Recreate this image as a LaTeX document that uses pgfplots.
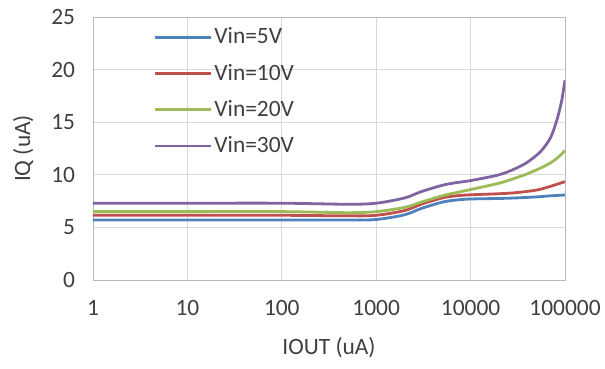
\documentclass[border=0pt]{standalone}
\usepackage{pgfplots}
\pgfplotsset{compat=1.18}
\usepackage{fontspec}
\setmainfont{Carlito}
\definecolor{cblue}{HTML}{4F81BD}
\definecolor{cred}{HTML}{C0504D}
\definecolor{cgreen}{HTML}{9BBB59}
\definecolor{cpurple}{HTML}{8064A2}
\definecolor{txt}{HTML}{404040}
\begin{document}
\fontsize{23.5}{28}\selectfont
\begin{tikzpicture}
\begin{axis}[
  at={(0,0)}, anchor=south west,
  scale only axis, width=472bp, height=263bp,
  xmode=log, xmin=1, xmax=100000,
  ymin=0, ymax=25, ytick={0,5,10,15,20,25},
  xtick={1,10,100,1000,10000,100000},
  xticklabels={1,10,100,1000,10000,100000},
  log basis x=10,
  /pgf/number format/assume math mode=true,
  tick label style={font=\fontsize{23.5}{28}\selectfont, text=txt},
  label style={font=\fontsize{23.5}{28}\selectfont, text=txt},
  xticklabel style={yshift=-12bp},
  yticklabel style={xshift=-10bp},
  major tick length=0pt, minor tick length=0pt,
  xmajorgrids, ymajorgrids, xminorgrids,
  major grid style={color=black!15, line width=0.8bp},
  minor grid style={color=black!8, line width=0.6bp},
  axis line style={color=black!28, line width=0.8bp},
  xlabel={IOUT (uA)}, ylabel={IQ (uA)},
  xlabel style={yshift=-6bp},
  ylabel style={yshift=2bp},
  legend style={draw=none, fill=none, at={(0.128,0.967)}, anchor=north west,
    font=\fontsize{23.5}{28}\selectfont, text=txt, row sep=12.5bp, inner sep=0pt,
    /tikz/every even column/.append style={column sep=0pt}},
  legend cell align=left,
  legend image code/.code={\draw[#1] (0bp,0bp) -- (56bp,0bp);},
  every axis plot/.append style={line width=2.8bp, smooth},
]
\addplot[cblue] coordinates {(1,5.7)(10,5.7)(100,5.7)(500,5.7)(1000,5.75)(2000,6.2)(3000,6.8)(5000,7.4)(7000,7.6)(10000,7.7)(20000,7.75)(30000,7.8)(50000,7.9)(70000,8.0)(100000,8.08)};
\addlegendentry{Vin=5V}
\addplot[cred] coordinates {(1,6.15)(10,6.15)(100,6.15)(500,6.1)(1000,6.15)(2000,6.6)(3000,7.2)(5000,7.8)(7000,8.0)(10000,8.1)(20000,8.2)(30000,8.3)(50000,8.55)(70000,8.9)(100000,9.35)};
\addlegendentry{Vin=10V}
\addplot[cgreen] coordinates {(1,6.5)(10,6.5)(100,6.5)(500,6.4)(1000,6.5)(2000,6.9)(3000,7.4)(5000,8.0)(7000,8.3)(10000,8.6)(20000,9.2)(30000,9.7)(40000,10.1)(60000,10.8)(75000,11.3)(88000,11.8)(100000,12.3)};
\addlegendentry{Vin=20V}
\addplot[cpurple] coordinates {(1,7.3)(10,7.3)(100,7.3)(500,7.2)(1000,7.3)(2000,7.8)(3000,8.4)(5000,9.0)(7000,9.25)(10000,9.45)(20000,10.0)(30000,10.6)(40000,11.2)(55000,12.2)(70000,13.5)(82000,15.2)(92000,17.0)(100000,19.0)};
\addlegendentry{Vin=30V}
\end{axis}
\pgfresetboundingbox
\path[use as bounding box] (-93bp,-89bp) rectangle (512bp,280bp);
\end{tikzpicture}
\end{document}
